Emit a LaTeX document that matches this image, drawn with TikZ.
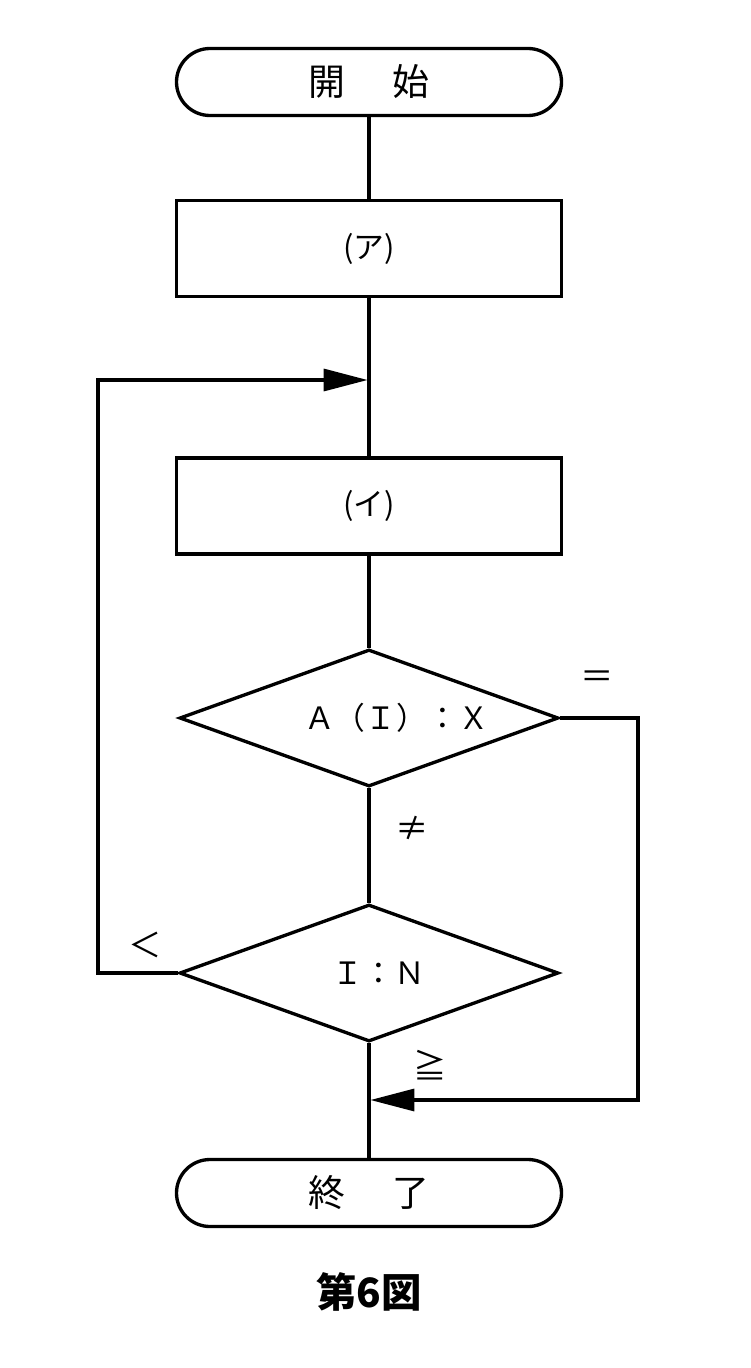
\documentclass[tikz,border=0pt]{standalone}
\usepackage{fontspec}
\setmainfont{Noto Sans CJK JP}
\usetikzlibrary{positioning,arrows.meta,shapes.geometric}
\tikzset{
  terminal/.style={draw,line width=1.9pt,rounded corners=0.67cm,minimum width=7.7cm,minimum height=1.34cm,inner sep=0pt,font=\fontsize{21pt}{24pt}\selectfont},
  proceso/.style={draw,line width=1.9pt,minimum width=7.7cm,minimum height=1.92cm,inner sep=0pt,font=\fontsize{17.5pt}{20pt}\selectfont},
  decision/.style={draw,line width=1.9pt,diamond,aspect=2.7,minimum width=7.58cm,minimum height=2.74cm,inner sep=0pt,font=\fontsize{17.5pt}{20pt}\selectfont},
  flujo/.style={line width=1.9pt},
  flecha/.style={line width=1.9pt,-{Triangle[length=25pt,width=12.5pt]},shorten >=0.8pt},
  etiqueta/.style={font=\fontsize{19pt}{22pt}\selectfont,inner sep=0pt}
}
\begin{document}
\begin{tikzpicture}
  \useasboundingbox (0,0) rectangle (15,-27.36);
  % bloques del diagrama
  \node[terminal] (inicio) at (7.38,-1.64) {開\hspace{1.3em}始};
  \node[proceso] (pa) at (7.38,-4.97) {(ア)};
  \node[proceso] (pi) at (7.38,-10.12) {(イ)};
  \node[decision] (d1) at (7.38,-14.36) {\hspace*{1.1cm}Ａ（Ｉ）：Ｘ};
  \node[decision] (d2) at (7.38,-19.46) {\hspace*{0.4cm}Ｉ：Ｎ};
  \node[terminal] (fin) at (7.38,-23.86) {終\hspace{1.3em}了};
  % puntos de union
  \coordinate (arriba) at (7.38,-7.6);
  \coordinate (abajo) at (7.38,-22.0);
  \coordinate (esqIzq) at (1.96,-7.6);
  \coordinate (esqDer) at (12.76,-22.0);
  % lineas
  \draw[flujo] (inicio) -- (pa);
  \draw[flujo] (pa) -- (pi);
  \draw[flujo] (pi) -- (d1);
  \draw[flujo] (d1) -- (d2);
  \draw[flujo] (d2) -- (fin);
  \draw[flecha] (d2.west) -| (esqIzq) -- (arriba);
  \draw[flecha] (d1.east) -| (esqDer) -- (abajo);
  % etiquetas
  \node[etiqueta] (lblIgual) at (11.94,-13.6) {＝};
  \node[etiqueta] (lblDist) at (8.24,-16.56) {≠};
  \node[etiqueta] (lblMenor) at (2.9,-18.9) {＜};
  \node[etiqueta] (lblMayor) at (8.6,-21.3) {≧};
  \node[font=\fontsize{23pt}{27pt}\selectfont\bfseries] (titulo) at (7.38,-25.84) {第6図};
\end{tikzpicture}
\end{document}
